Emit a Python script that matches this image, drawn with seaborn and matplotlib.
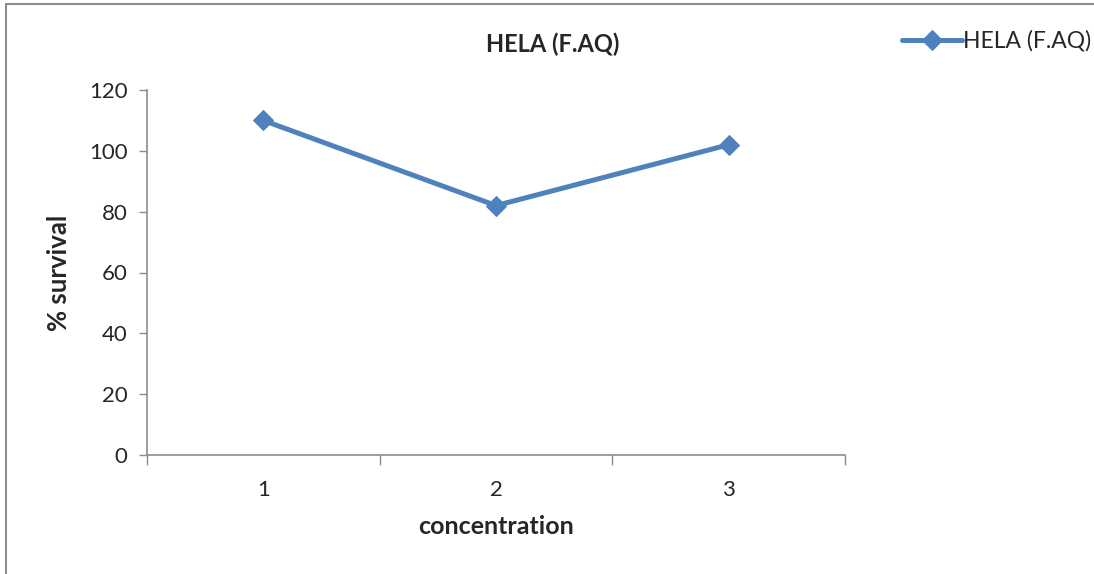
import matplotlib
matplotlib.use("Agg")
import matplotlib.pyplot as plt
from matplotlib.lines import Line2D
import seaborn as sns
import pandas as pd

concentration = [1, 2, 3]
survival = [110, 82, 102]
series_name = "HELA (F.AQ)"
y_ticks = [0, 20, 40, 60, 80, 100, 120]

sns.set_theme(style="white")
plt.rcParams['font.family'] = ['Lato', 'DejaVu Sans']

df = pd.DataFrame({"concentration": concentration, "survival": survival,
                   "series": [series_name] * len(concentration)})

fig = plt.figure(figsize=(10.94, 5.74), dpi=100)
ax = fig.add_axes([147/1094, 1 - 455/574, (845 - 147)/1094, (455 - 90)/574])

color = "#4F81BD"
sns.lineplot(data=df, x="concentration", y="survival", ax=ax, color=color,
             linewidth=3.6, marker="D", markersize=10.5, markeredgecolor=color,
             label=series_name, legend=False)

ax.set_xlim(0.5, 3.5)
ax.set_ylim(0, 120)
ax.set_yticks(y_ticks)
ax.set_xticks(concentration)
ax.set_xticks([0.5, 1.5, 2.5, 3.5], minor=True)
ax.tick_params(axis="x", which="major", length=0, pad=18, labelsize=16)
ax.tick_params(axis="x", which="minor", length=7, width=1, color="#8c8c8c", direction="out", bottom=True)
ax.tick_params(axis="y", which="major", length=6, width=1, color="#8c8c8c", direction="out", left=True, labelsize=16, pad=8)

for side in ["top", "right"]:
    ax.spines[side].set_visible(False)
for side in ["left", "bottom"]:
    ax.spines[side].set_color("#8c8c8c")
    ax.spines[side].set_linewidth(1.2)

ax.set_xlabel("concentration", fontsize=18, fontweight="bold", labelpad=11)
ax.set_ylabel("% survival", fontsize=18.5, fontweight="bold", labelpad=13)
ax.grid(False)

fig.text(553/1094, 1 - 44/574, series_name, ha="center", va="center",
         fontsize=17, fontweight="bold")

handles, labels = ax.get_legend_handles_labels()
fig.legend(handles, labels, loc="center left", bbox_to_anchor=(902/1094, 1 - 41/574),
           frameon=False, fontsize=16.5, handlelength=2.6, handletextpad=0.05,
           borderaxespad=0, borderpad=0)

# chart area border (left and top visible)
fig.add_artist(Line2D([6/1094, 6/1094], [0, 1 - 4/574], transform=fig.transFigure,
                      color="#8c8c8c", linewidth=1.5))
fig.add_artist(Line2D([6/1094, 1], [1 - 4/574, 1 - 4/574], transform=fig.transFigure,
                      color="#8c8c8c", linewidth=1.5))

fig.savefig("out.png", dpi=100)
